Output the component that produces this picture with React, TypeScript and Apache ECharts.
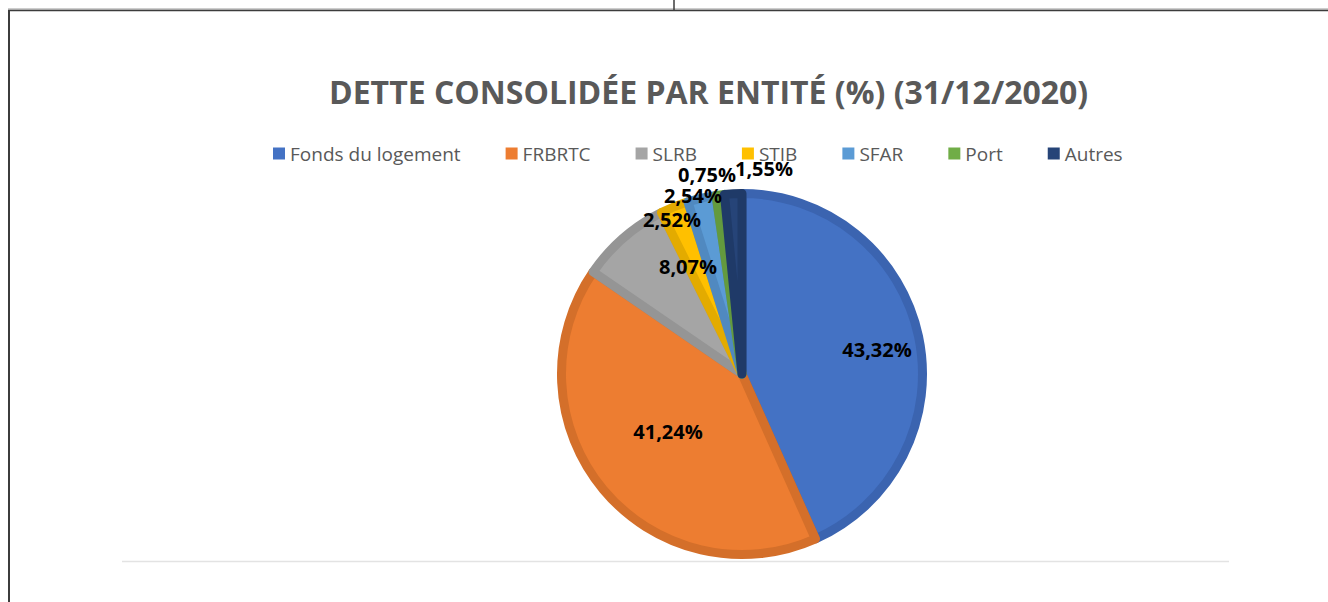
import React, { useEffect, useRef } from "react";
import * as echarts from "echarts";

const TITLE = "DETTE CONSOLIDÉE PAR ENTITÉ (%) (31/12/2020)";
const CATEGORIES = ["Fonds du logement", "FRBRTC", "SLRB", "STIB", "SFAR", "Port", "Autres"];
const VALUES = [43.32, 41.24, 8.07, 2.52, 2.54, 0.75, 1.55];
const COLORS = ["#4472C4", "#ED7D31", "#A5A5A5", "#FFC000", "#5B9BD5", "#70AD47", "#264478"];
const BORDER_COLORS = ["#3B64B0", "#D46F2A", "#959595", "#E3AB00", "#5089C0", "#639A3E", "#1F3A68"];
// label centres (px) as placed in the reference
const LABEL_X = [877, 668, 688, 672, 693, 707, 764];
const LABEL_Y = [349, 431, 266, 219, 195, 174, 168];

const fmt = (v: number) => v.toFixed(2).replace(".", ",") + "%";

export default function App() {
  const ref = useRef<HTMLDivElement>(null);
  useEffect(() => {
    if (!ref.current) return;
    const chart = echarts.init(ref.current, null, { renderer: "svg" });
    chart.setOption({
      animation: false,
      backgroundColor: "#ffffff",
      title: {
        text: TITLE,
        left: 329,
        top: 75,
        padding: 0,
        textStyle: {
          fontFamily: "Open Sans",
          fontWeight: "bold",
          fontSize: 32,
          color: "#595959",
        },
      },
      legend: {
        data: CATEGORIES,
        left: 273,
        top: 144,
        padding: 0,
        itemWidth: 12,
        itemHeight: 12,
        itemGap: 45,
        icon: "rect",
        itemStyle: { borderWidth: 0 },
        textStyle: { fontFamily: "Open Sans", fontSize: 19, color: "#595959", padding: [0, 0, 0, 0] },
      },
      graphic: [
        { type: "line", shape: { x1: 8, y1: 9, x2: 1328, y2: 9 }, style: { stroke: "#9a9a9a", lineWidth: 1 } },
        { type: "line", shape: { x1: 8, y1: 10.5, x2: 1328, y2: 10.5 }, style: { stroke: "#3c3c3c", lineWidth: 1.5 } },
        { type: "line", shape: { x1: 9, y1: 10, x2: 9, y2: 602 }, style: { stroke: "#3c3c3c", lineWidth: 2 } },
        { type: "line", shape: { x1: 674, y1: 0, x2: 674, y2: 10 }, style: { stroke: "#3c3c3c", lineWidth: 1.5 } },
        { type: "line", shape: { x1: 122, y1: 561.5, x2: 1229, y2: 561.5 }, style: { stroke: "#e3e3e3", lineWidth: 1.5 } },
      ],
      series: [
        {
          type: "pie",
          center: [742, 374],
          radius: [0, 180.5],
          startAngle: 90,
          clockwise: true,
          avoidLabelOverlap: false,
          minShowLabelAngle: 0,
          data: CATEGORIES.map((name, i) => ({
            name,
            value: VALUES[i],
            itemStyle: { color: COLORS[i], borderColor: BORDER_COLORS[i] },
          })),
          itemStyle: { borderWidth: 9, borderJoin: "round" },
          label: {
            show: true,
            position: "inside",
            formatter: (p: any) => fmt(p.value),
            fontFamily: "Open Sans",
            fontWeight: "bold",
            fontSize: 20,
            color: "#000000",
          },
          labelLine: { show: false },
          labelLayout: (p: any) => ({
            x: LABEL_X[p.dataIndex],
            y: LABEL_Y[p.dataIndex],
            align: "center",
            verticalAlign: "middle",
          }),
          emphasis: { disabled: true },
        },
      ],
    });
    return () => chart.dispose();
  }, []);
  return (
    <div
      ref={ref}
      style={{ position: "absolute", left: 0, top: 0, width: 1328, height: 602 }}
    />
  );
}
